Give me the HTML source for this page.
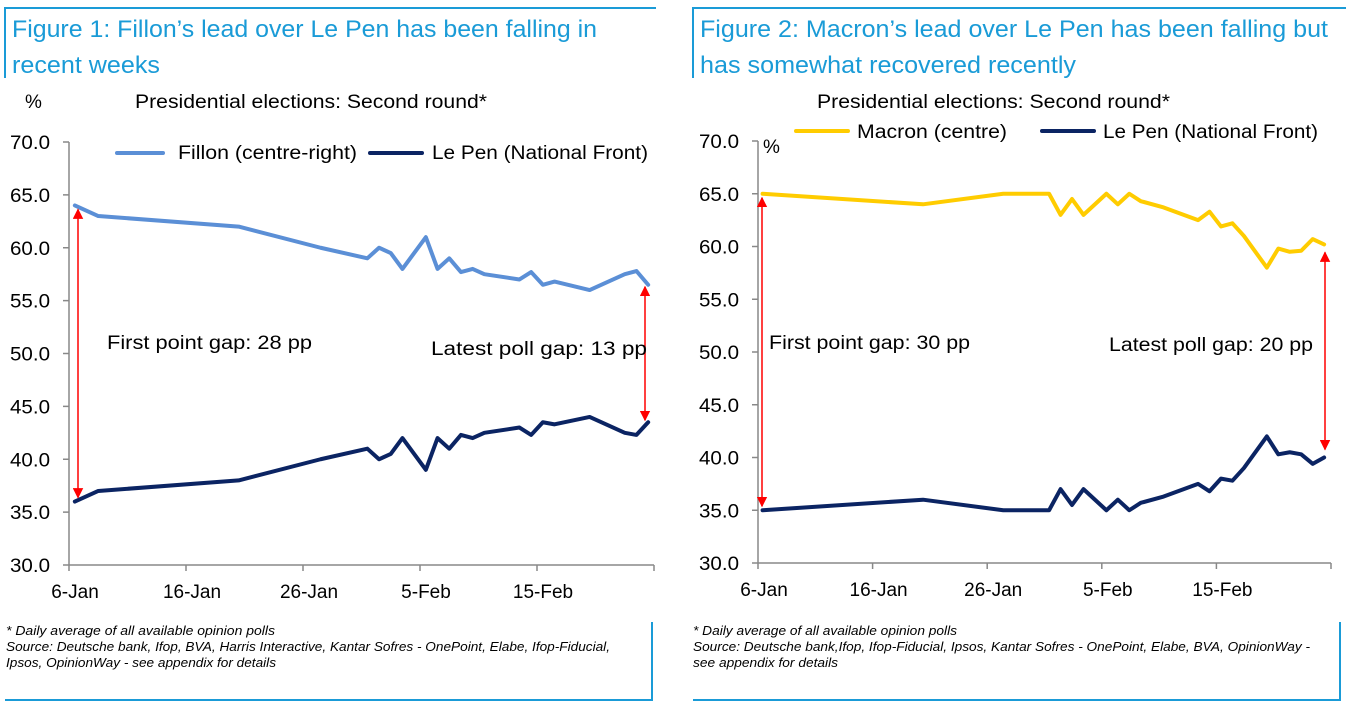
<!DOCTYPE html>
<html><head><meta charset="utf-8"><style>
html,body{margin:0;padding:0;background:#fff;}
body{width:1346px;height:712px;overflow:hidden;position:relative;font-family:"Liberation Sans",Arial,sans-serif;}
svg{position:absolute;left:0;top:0;}
</style></head><body>
<svg id="svg" width="1346" height="712" xmlns="http://www.w3.org/2000/svg">
<defs>
<marker id="ah" viewBox="0 0 10 10" refX="9" refY="5" markerWidth="7" markerHeight="7" orient="auto-start-reverse"><path d="M0,0 L10,5 L0,10 z" fill="#ff0000"/></marker>
</defs>
<g stroke="#1a9bd7" stroke-width="2" fill="none">
<path d="M5,78 V8 H656"/>
<path d="M693,78 V8 H1346"/>
<path d="M5,700 H652 V622"/>
<path d="M693,700 H1340 V622"/>
</g>
<g font-size="24" fill="#1a9bd7" lengthAdjust="spacingAndGlyphs">
<text x="12" y="37" textLength="585" lengthAdjust="spacingAndGlyphs">Figure 1: Fillon’s lead over Le Pen has been falling in</text>
<text x="12" y="73" textLength="148" lengthAdjust="spacingAndGlyphs">recent weeks</text>
<text x="700" y="37" textLength="628" lengthAdjust="spacingAndGlyphs">Figure 2: Macron’s lead over Le Pen has been falling but</text>
<text x="700" y="73" textLength="376" lengthAdjust="spacingAndGlyphs">has somewhat recovered recently</text>
</g>
<g font-size="13" font-style="italic" fill="#000">
<text x="6" y="635" textLength="269" lengthAdjust="spacingAndGlyphs">* Daily average of all available opinion polls</text>
<text x="6" y="651" textLength="604" lengthAdjust="spacingAndGlyphs">Source: Deutsche bank, Ifop, BVA, Harris Interactive, Kantar Sofres - OnePoint, Elabe, Ifop-Fiducial,</text>
<text x="6" y="667" textLength="270" lengthAdjust="spacingAndGlyphs">Ipsos, OpinionWay - see appendix for details</text>
<text x="693" y="635" textLength="264" lengthAdjust="spacingAndGlyphs">* Daily average of all available opinion polls</text>
<text x="693" y="651" textLength="617" lengthAdjust="spacingAndGlyphs">Source: Deutsche bank,Ifop, Ifop-Fiducial, Ipsos, Kantar Sofres - OnePoint, Elabe, BVA, OpinionWay -</text>
<text x="693" y="667" textLength="145" lengthAdjust="spacingAndGlyphs">see appendix for details</text>
</g>
</svg>
<script>
// Figure 1 data (days since 6-Jan)
const leftDays = [0,2,14,21,25,26,27,28,30,31,32,33,34,35,38,39,40,41,44,47,48,49];
const fillon = [64,63,62,60,59,60,59.5,58,61,58,59,57.7,58,57.5,57,57.7,56.5,56.8,56,57.5,57.8,56.5];
const lepenLeft = [36,37,38,40,41,40,40.5,42,39,42,41,42.3,42,42.5,43,42.3,43.5,43.3,44,42.5,42.3,43.5];
// Figure 2 data
const rightDays = [0,14,21,25,26,27,28,30,31,32,33,35,38,39,40,41,42,44,45,46,47,48,49];
const macron = [65,64,65,65,63,64.5,63,65,64,65,64.3,63.7,62.5,63.3,61.9,62.2,61,58,59.8,59.5,59.6,60.7,60.2];
const lepenRight = [35,36,35,35,37,35.5,37,35,36,35,35.7,36.3,37.5,36.8,38,37.8,39,42,40.3,40.5,40.3,39.4,40];
// axis labels
const yTicks = [30,35,40,45,50,55,60,65,70];
const xTickDays = [0,10,20,30,40,50];
const xTickLabels = ['6-Jan','16-Jan','26-Jan','5-Feb','15-Feb',''];

const NS='http://www.w3.org/2000/svg';
const svg=document.getElementById('svg');
function mk(tag,attrs,parent){const e=document.createElementNS(NS,tag);for(const k in attrs)e.setAttribute(k,attrs[k]);(parent||svg).appendChild(e);return e;}
function txt(x,y,s,attrs,parent){const t=mk('text',Object.assign({x:x,y:y,'font-size':19,fill:'#000'},attrs||{}),parent);t.textContent=s;return t;}

function chart(cfg){
  const g=mk('g',{});
  
  
  const xs=d=>cfg.x0+(d+cfg.off)*cfg.pxDay;
  const ys=v=>cfg.yBot-(v-30)*(cfg.yBot-cfg.yTop)/40;
  const axX=cfg.x0, axEnd=cfg.x0+50*cfg.pxDay;
  const ya=mk('line',{x1:axX,y1:ys(70),x2:axX,y2:ys(30),stroke:'#888','stroke-width':1.5},g);
  
  
  yTicks.forEach(v=>{
    const tk=mk('line',{x1:axX-6,y1:ys(v),x2:axX,y2:ys(v),stroke:'#888','stroke-width':1.5},g);
    
    
    const t=txt(axX-19,ys(v)+7,v.toFixed(1),{'text-anchor':'end',textLength:40,lengthAdjust:'spacingAndGlyphs'},g);
    
    
  });
  const xa=mk('line',{x1:axX,y1:ys(30),x2:axEnd,y2:ys(30),stroke:'#888','stroke-width':1.5},g);
  
  
  xTickDays.forEach((d,i)=>{
    const x=cfg.x0+d*cfg.pxDay;
    const tk=mk('line',{x1:x,y1:ys(30),x2:x,y2:ys(30)+6,stroke:'#888','stroke-width':1.5},g);
    
    
    if(xTickLabels[i]){
      const t=txt(x+6,ys(30)+33,xTickLabels[i],{'text-anchor':'middle'},g);
      
      
    }
  });
  cfg.series.forEach(s=>{
    const p=mk('polyline',{points:cfg.days.map((d,i)=>xs(d)+','+ys(s.vals[i])).join(' '),fill:'none',stroke:s.color,'stroke-width':4,'stroke-linejoin':'round','stroke-linecap':'round'},g);
    
    
  });
  const n=cfg.days.length-1;
  const a1=mk('line',{x1:cfg.a1x,y1:ys(cfg.series[0].vals[0])+4,x2:cfg.a1x,y2:ys(cfg.series[1].vals[0])-4,stroke:'#ff0000','stroke-width':1.5,'marker-start':'url(#ah)','marker-end':'url(#ah)'},g);
  
  
  const a2=mk('line',{x1:cfg.a2x,y1:ys(cfg.series[0].vals[n])+cfg.a2pad,x2:cfg.a2x,y2:ys(cfg.series[1].vals[n])-cfg.a2pad,stroke:'#ff0000','stroke-width':1.5,'marker-start':'url(#ah)','marker-end':'url(#ah)'},g);
  
  
  return g;
}

chart({name:'figure1-chart',x0:69,off:0.5,pxDay:11.7,yTop:142,yBot:565,days:leftDays,
  series:[{name:'fillon-line',vals:fillon,color:'#5b8fd6'},{name:'lepen-line-fig1',vals:lepenLeft,color:'#0b2463'}],
  a1x:78,a2x:645,a2pad:2});
chart({name:'figure2-chart',x0:758,off:0.4,pxDay:11.46,yTop:141,yBot:563,days:rightDays,
  series:[{name:'macron-line',vals:macron,color:'#ffcc00'},{name:'lepen-line-fig2',vals:lepenRight,color:'#0b2463'}],
  a1x:762,a2x:1325,a2pad:8});

const labs=[
 [25,108,'%','left-y-unit',0],[135,108,'Presidential elections: Second round*','left-chart-subtitle',352],
 [178,159,'Fillon (centre-right)','legend-fillon-label',179],[432,159,'Le Pen (National Front)','legend-lepen-label-fig1',216],
 [107,349,'First point gap: 28  pp','left-first-gap-label',205],[431,355,'Latest poll gap: 13 pp','left-latest-gap-label',216],
 [763,153,'%','right-y-unit',0],[817,108,'Presidential elections: Second round*','right-chart-subtitle',353],
 [857,138,'Macron (centre)','legend-macron-label',150],[1103,138,'Le Pen (National Front)','legend-lepen-label-fig2',215],
 [769,349,'First point gap: 30 pp','right-first-gap-label',201],[1109,351,'Latest poll gap: 20 pp','right-latest-gap-label',204]];
labs.forEach(l=>{const t=txt(l[0],l[1],l[2], l[4]?{textLength:l[4],lengthAdjust:'spacingAndGlyphs'}:{});
  
  });
const legs=[[117,163,153,'#5b8fd6','legend-fillon-swatch'],[370,422,153,'#0b2463','legend-lepen-swatch-fig1'],
 [796,848,131,'#ffcc00','legend-macron-swatch'],[1042,1094,131,'#0b2463','legend-lepen-swatch-fig2']];
legs.forEach(l=>{const e=mk('line',{x1:l[0],y1:l[2],x2:l[1],y2:l[2],stroke:l[3],'stroke-width':4,'stroke-linecap':'round'});
  
  });
</script>
</body></html>
